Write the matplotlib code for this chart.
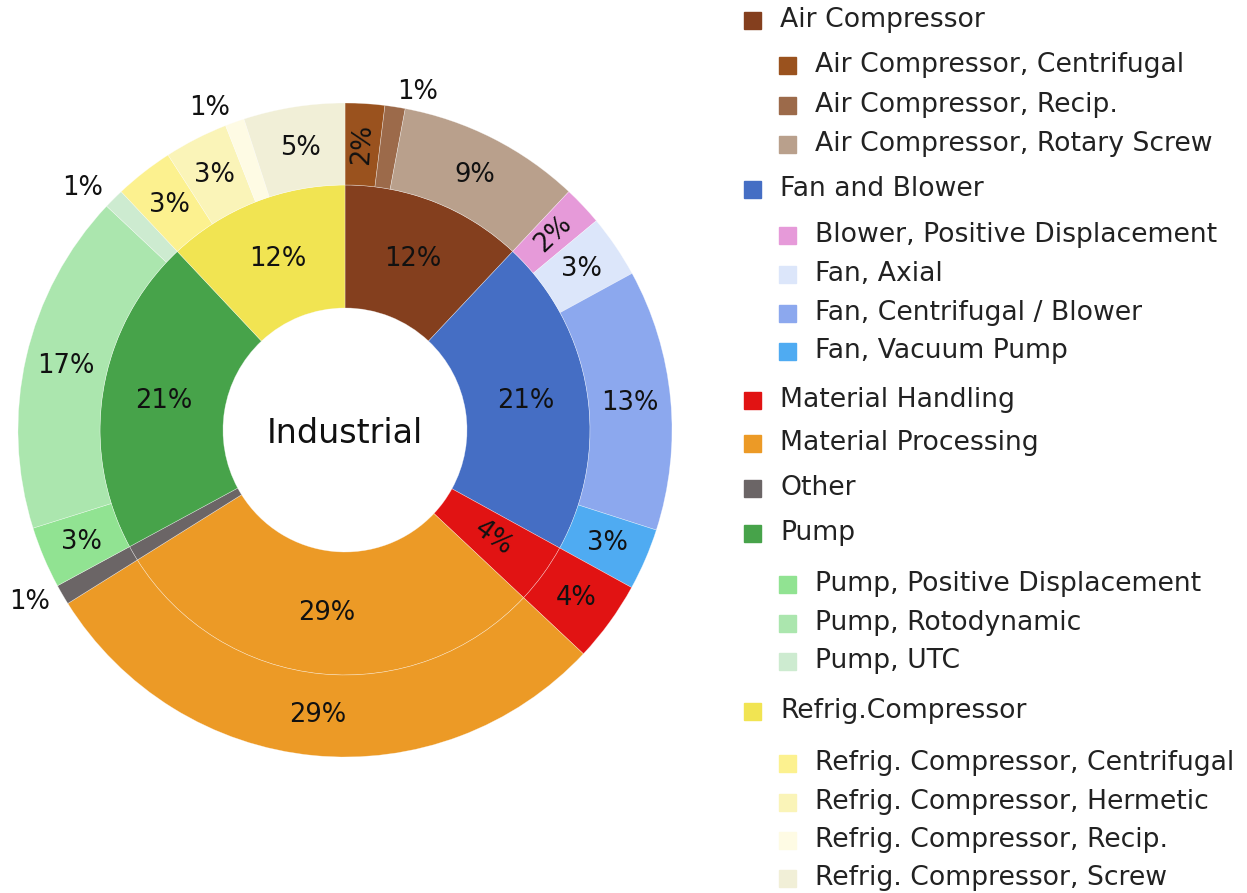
import numpy as np
import matplotlib
matplotlib.use('Agg')
import matplotlib.pyplot as plt
from matplotlib.patches import Rectangle

# inner ring: sector groups (percent of total)
inner_labels = ['Air Compressor', 'Fan and Blower', 'Material Handling',
                'Material Processing', 'Other', 'Pump', 'Refrig.Compressor']
inner_values = [12.0, 21.0, 4.0, 29.1, 1.0, 20.9, 12.0]
inner_colors = ['#843f1e', '#456ec4', '#e11313', '#ec9a26', '#6b6566',
                '#47a34a', '#f1e452']

# outer ring: sub-types (percent of total)
outer_labels = ['Air Compressor, Centrifugal', 'Air Compressor, Recip.',
                'Air Compressor, Rotary Screw',
                'Blower, Positive Displacement', 'Fan, Axial',
                'Fan, Centrifugal / Blower', 'Fan, Vacuum Pump',
                'Material Handling', 'Material Processing', 'Other',
                'Pump, Positive Displacement', 'Pump, Rotodynamic', 'Pump, UTC',
                'Refrig. Compressor, Centrifugal', 'Refrig. Compressor, Hermetic',
                'Refrig. Compressor, Recip.', 'Refrig. Compressor, Screw']
outer_values = [1.95, 1.0, 9.05,
                1.95, 3.1, 12.9, 3.05,
                4.0, 29.1, 1.0,
                3.05, 16.85, 1.0,
                2.9, 3.15, 0.95, 5.0]
outer_colors = ['#9a521e', '#9c6a4a', '#b9a08c',
                '#e69ad9', '#dce6fa', '#8ca8ee', '#4fabf2',
                '#e11313', '#ec9a26', '#6b6566',
                '#91e392', '#abe6ae', '#cdebd0',
                '#fcf18f', '#faf4b8', '#fefbe4', '#f1efd7']
outer_parent = [0, 0, 0, 1, 1, 1, 1, 2, 3, 4, 5, 5, 5, 6, 6, 6, 6]

W, H = 1247, 893
CX, CY = 345, 430          # pie centre, px
R_OUT = 327                # outer radius, px
R_MID = 245
R_HOLE = 122
TXT = '#111111'

fig = plt.figure(figsize=(W / 100, H / 100), dpi=100)
half = 1.05 * R_OUT
ax = fig.add_axes([(CX - half) / W, (H - CY - half) / H, 2 * half / W, 2 * half / H])
ax.set_aspect('equal')
ax.axis('off')

wp = dict(edgecolor=(1, 1, 1, 0.5), linewidth=0.4)
ax.pie(inner_values, radius=R_MID / R_OUT, colors=inner_colors,
       startangle=90, counterclock=False,
       wedgeprops=dict(width=(R_MID - R_HOLE) / R_OUT, **wp))
ax.pie(outer_values, radius=1.0, colors=outer_colors,
       startangle=90, counterclock=False,
       wedgeprops=dict(width=(R_OUT - R_MID) / R_OUT, **wp))
ax.set_xlim(-1.05, 1.05)
ax.set_ylim(-1.05, 1.05)


def put_labels(values, r_mid, outside):
    vals = np.array(values)
    mids = np.cumsum(vals) - vals / 2
    for v, c in zip(vals, mids):
        th = np.deg2rad(c * 3.6)
        s, co = np.sin(th), np.cos(th)
        arc = v / 100 * 2 * np.pi * r_mid * R_OUT
        txt = f'{v:.0f}%'
        if arc >= 50:
            ax.text(r_mid * s, r_mid * co, txt, ha='center', va='center',
                    fontsize=18.5, color=TXT)
        elif arc >= 30:
            rot = 90 - c * 3.6
            rot = ((rot + 90) % 180) - 90
            ax.text(r_mid * s, r_mid * co, txt, ha='center', va='center',
                    rotation=rot, rotation_mode='anchor',
                    fontsize=18.5, color=TXT)
        elif outside:
            r = 1.045
            ax.text(r * s, r * co, txt, ha='left' if s > 0 else 'right',
                    va='center', fontsize=18.5, color=TXT)


put_labels(inner_values, (R_MID + R_HOLE) / 2 / R_OUT, False)
put_labels(outer_values, (R_OUT + R_MID) / 2 / R_OUT, True)

ax.text(0, -0.01, 'Industrial', ha='center', va='center', fontsize=24, color=TXT)

# legend, drawn in pixel coordinates
lg = fig.add_axes([0, 0, 1, 1])
lg.set_xlim(0, W)
lg.set_ylim(H, 0)
lg.axis('off')

entries = []
for i, name in enumerate(inner_labels):
    entries.append((name, inner_colors[i], 0))
    for j, sub in enumerate(outer_labels):
        if outer_parent[j] == i and sub != name:
            entries.append((sub, outer_colors[j], 1))

legend_y = [20, 65, 105, 144, 189, 235, 274, 313, 351, 400, 443, 488, 533,
            584, 623, 661, 711, 763, 802, 840, 878]
SQ = 17
for (name, col, lvl), y in zip(entries, legend_y):
    mx = 752 + 35 * lvl
    lg.add_patch(Rectangle((mx - SQ / 2, y - SQ / 2), SQ, SQ, color=col))
    lg.text(mx + 28, y, name, ha='left', va='center', fontsize=19.2, color='#222222')

fig.savefig('out.png', dpi=100)
